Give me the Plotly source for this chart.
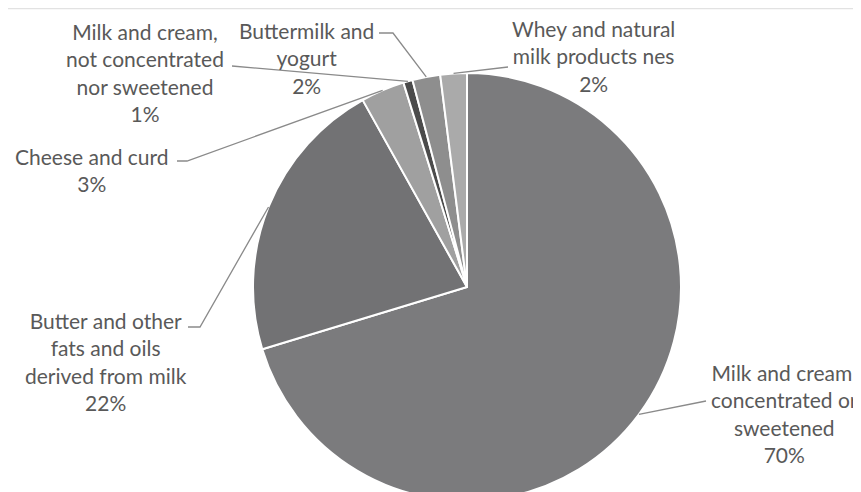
import math
import plotly.graph_objects as go

# ---- data ----
categories = [
    "Milk and cream, concentrated or sweetened",
    "Butter and other fats and oils derived from milk",
    "Cheese and curd",
    "Milk and cream, not concentrated nor sweetened",
    "Buttermilk and yogurt",
    "Whey and natural milk products nes",
]
shares = [70.3, 21.6, 3.3, 0.7, 2.1, 2.0]
label_lines = [
    ["Milk and cream,", "concentrated or", "sweetened"],
    ["Butter and other", "fats and oils", "derived from milk"],
    ["Cheese and curd"],
    ["Milk and cream,", "not concentrated", "nor sweetened"],
    ["Buttermilk and", "yogurt"],
    ["Whey and natural", "milk products nes"],
]

# ---- styling / layout ----
W, H = 861, 520          # figure is taller than the window so the pie runs off the bottom
OFF = 8                  # page body margin (screen px)
colors = ["#7b7b7d", "#727274", "#a0a0a0", "#4b4b4b", "#8e8e8e", "#aaaaaa"]
cx, cy, r = 467, 287, 214  # pie centre and radius in screen pixels
text_color = "#595959"
line_color = "#8a8a8a"
font_family = "Lato"
font_size = 21

# label block centres and leader-line start points (screen pixels)
label_pos = [(784, 413), (106, 361), (92, 170), (145, 72), (306, 58), (593, 56)]
leader_start = [
    [(706, 401)],
    [(188, 327), (200, 327)],
    [(177, 161), (187, 161)],
    [(232, 66)],
    [(379, 33), (393, 33)],
    [(508, 67)],
]


def px(x):
    return (x - OFF) / W


def py(y):
    return 1 - (y - OFF) / H


fig = go.Figure(
    go.Pie(
        labels=categories,
        values=shares,
        sort=False,
        direction="clockwise",
        rotation=0,
        marker=dict(colors=colors, line=dict(color="white", width=2)),
        textinfo="none",
        hoverinfo="label+percent",
        domain=dict(x=[px(cx - r), px(cx + r)], y=[py(cy + r), py(cy - r)]),
        showlegend=False,
    )
)

total = sum(shares)
annotations = []
shapes = []
cum = 0.0
for i, v in enumerate(shares):
    mid = (cum + v / 2) / total * 2 * math.pi
    cum += v
    ex = cx + r * math.sin(mid)
    ey = cy - r * math.cos(mid)
    pts = leader_start[i] + [(ex, ey)]
    path = "M " + " L ".join(f"{px(x):.5f},{py(y):.5f}" for x, y in pts)
    shapes.append(
        dict(type="path", path=path, xref="paper", yref="paper",
             line=dict(color=line_color, width=1.3))
    )
    pct = f"{v / total * 100:.0f}%"
    text = "<br>".join(label_lines[i] + [pct])
    lx, ly = label_pos[i]
    annotations.append(
        dict(x=px(lx), y=py(ly), xref="paper", yref="paper", text=text,
             showarrow=False, xanchor="center", yanchor="middle", align="center",
             font=dict(family=font_family, size=font_size, color=text_color))
    )

# faint frame line at top
shapes.append(dict(type="line", xref="paper", yref="paper", x0=px(8), x1=1, y0=py(8.5), y1=py(8.5),
                   line=dict(color="#e2e2e2", width=1.5)))

fig.update_layout(
    width=W,
    height=H,
    margin=dict(l=0, r=0, t=0, b=0),
    paper_bgcolor="white",
    plot_bgcolor="white",
    annotations=annotations,
    shapes=shapes,
)

fig.write_html("out.html")
